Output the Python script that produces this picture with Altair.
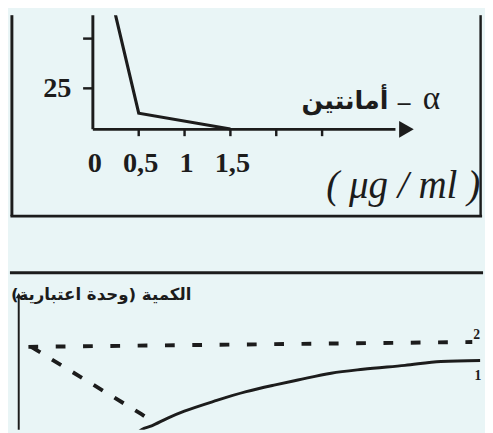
import altair as alt
import pandas as pd

BG = "#e9f5f6"
INK = "#1c1c1c"
SERIF = "Liberation Serif"
ARABIC = "DejaVu Sans"

# ---------------- top panel: alpha-amanitin dose curve ----------------
dose = [0, 0.5, 1.5]
activity = [110, 12.5, 4.6]
x_tick_values = [0.5, 1, 1.5, 2, 2.5]
x_label_values = [0, 0.5, 1, 1.5]
x_label_texts = ["0", "0,5", "1", "1,5"]
y_tick_values = [25, 50]
y_label_values = [25]
y_label_texts = ["25"]
Y_FLOOR = 4.4
X_END = 3.3
ARROW_X = 3.42

# ---------------- bottom panel: quantity curves ----------------
t_curve1 = [2.5, 2.66, 2.88, 3.23, 3.59, 4.29, 4.93, 5.56, 6.05, 6.77, 7.46, 8.37, 9.15, 10.0]
q_curve1 = [18, 23.5, 27.0, 33.9, 40.0, 49.6, 57.4, 63.5, 67.8, 73.9, 77.4, 80.9, 84.3, 85.2]
t_curve2 = [0.21, 9.83]
q_curve2 = [97.4, 101.7]
t_drop = [0.27, 2.66, 2.75]
q_drop = [97.4, 37.4, 35.0]
series_labels = ["2", "1"]
series_label_t = [9.85, 9.88]
series_label_q = [107.5, 71.0]

TOP_W, TOP_H = 485, 254
BOT_W, BOT_H = 485, 171

top_x = alt.Scale(domain=[0, 1], range=[85, 179], nice=False, zero=False)
top_y = alt.Scale(domain=[0, 50], range=[126, 24], nice=False, zero=False)
bot_x = alt.Scale(domain=[0, 10], range=[9, 482], nice=False, zero=False)
bot_y = alt.Scale(domain=[0, 100], range=[198, 83], nice=False, zero=False)

one = pd.DataFrame({"a": [0]})


def tx(f):
    return alt.X(f, type="quantitative", scale=top_x, axis=None)


def ty(f):
    return alt.Y(f, type="quantitative", scale=top_y, axis=None)


def bx(f):
    return alt.X(f, type="quantitative", scale=bot_x, axis=None)


def by(f):
    return alt.Y(f, type="quantitative", scale=bot_y, axis=None)


# top layers
df_line = pd.DataFrame({"x": dose, "y": activity})
t_line = alt.Chart(df_line).mark_line(color=INK, strokeWidth=3.2, clip=True).encode(
    x=tx("x"), y=ty("y"))

df_axes = pd.DataFrame({"x": [0, 0], "y": [Y_FLOOR, Y_FLOOR],
                        "x2": [0, X_END], "y2": [80, Y_FLOOR]})
t_axes = alt.Chart(df_axes).mark_rule(color=INK, strokeWidth=3, clip=True).encode(
    x=tx("x"), y=ty("y"), x2="x2", y2="y2")

df_arrow = pd.DataFrame({"x": [ARROW_X], "y": [Y_FLOOR]})
t_arrow = alt.Chart(df_arrow).mark_point(shape="triangle-right", filled=True, size=300,
                                         color=INK, opacity=1).encode(x=tx("x"), y=ty("y"))

df_yt = pd.DataFrame({"x": [0] * len(y_tick_values), "v": y_tick_values})
t_yticks = alt.Chart(df_yt).mark_rule(color=INK, strokeWidth=2.5, x2Offset=-10).encode(
    x=tx("x"), x2="x", y=ty("v"))

df_xt = pd.DataFrame({"v": x_tick_values, "f": [Y_FLOOR] * len(x_tick_values)})
t_xticks = alt.Chart(df_xt).mark_rule(color=INK, strokeWidth=2.5, y2Offset=7).encode(
    x=tx("v"), y=ty("f"), y2="f")

df_xl = pd.DataFrame({"v": x_label_values, "f": [Y_FLOOR] * len(x_label_values),
                      "t": x_label_texts})
t_xlabels = alt.Chart(df_xl).mark_text(font=SERIF, fontSize=29, fontWeight="bold",
                                       color=INK, dy=35, dx=2, baseline="middle").encode(
    x=tx("v"), y=ty("f"), text="t:N")

df_yl = pd.DataFrame({"x": [0] * len(y_label_values), "v": y_label_values,
                      "t": y_label_texts})
t_ylabels = alt.Chart(df_yl).mark_text(font=SERIF, fontSize=29, fontWeight="bold",
                                       color=INK, dx=-22, align="right",
                                       baseline="middle").encode(
    x=tx("x"), y=ty("v"), text="t:N")

t_frame = alt.layer(
    alt.Chart(one).mark_rule(color=INK, strokeWidth=3).encode(
        x=alt.value(2), y=alt.value(0), y2=alt.value(206)),
    alt.Chart(one).mark_rule(color=INK, strokeWidth=3).encode(
        x=alt.value(0.5), x2=alt.value(484), y=alt.value(206)),
    alt.Chart(one).mark_rule(color=INK, strokeWidth=2.5).encode(
        x=alt.value(482.5), y=alt.value(0), y2=alt.value(206)),
)

t_name = alt.Chart(one).mark_text(text="أمانتين", font=ARABIC, fontSize=26,
                                  fontWeight="bold", color=INK, align="right",
                                  baseline="middle").encode(
    x=alt.value(388), y=alt.value(88))
t_dash = alt.Chart(one).mark_text(text="–", font=SERIF, fontSize=26, fontWeight="bold",
                                  color=INK, align="center",
                                  baseline="middle").encode(
    x=alt.value(404), y=alt.value(89))
t_alpha = alt.Chart(one).mark_text(text="α", font=SERIF, fontSize=34,
                                   color=INK, align="center",
                                   baseline="middle").encode(
    x=alt.value(432), y=alt.value(86))
t_unit = alt.Chart(one).mark_text(text="( μg / ml )", font=SERIF, fontSize=40,
                                  fontStyle="italic", color=INK, align="right",
                                  baseline="middle").encode(
    x=alt.value(482), y=alt.value(175))

top = alt.layer(t_frame, t_axes, t_arrow, t_yticks, t_xticks, t_line,
                t_xlabels, t_ylabels, t_name, t_dash, t_alpha, t_unit).properties(
    width=TOP_W, height=TOP_H)

# bottom layers
b_sep = alt.Chart(one).mark_rule(color=INK, strokeWidth=3).encode(
    x=alt.value(0), x2=alt.value(BOT_W), y=alt.value(10))

df_baxis = pd.DataFrame({"x": [0], "y": [-40], "y2": [143]})
b_axis = alt.Chart(df_baxis).mark_rule(color=INK, strokeWidth=2, clip=True).encode(
    x=bx("x"), y=by("y"), y2="y2")
df_barrow = pd.DataFrame({"x": [0], "y": [143]})
b_arrow = alt.Chart(df_barrow).mark_point(shape="triangle-up", filled=True, size=40,
                                          color=INK, opacity=1).encode(x=bx("x"), y=by("y"))

b_title = alt.Chart(one).mark_text(text="الكمية (وحدة اعتبارية)\u200f", font=ARABIC,
                                   fontSize=17, fontWeight="bold", color=INK,
                                   align="left", baseline="middle").encode(
    x=alt.value(1), y=alt.value(33))

df_c2 = pd.DataFrame({"t": t_curve2, "q": q_curve2})
b_c2 = alt.Chart(df_c2).mark_line(color=INK, strokeWidth=4, strokeDash=[10, 18],
                                  clip=True).encode(x=bx("t"), y=by("q"))
df_drop = pd.DataFrame({"t": t_drop, "q": q_drop})
b_drop = alt.Chart(df_drop).mark_line(color=INK, strokeWidth=4, strokeDash=[11, 14],
                                      clip=True).encode(x=bx("t"), y=by("q"))
df_c1 = pd.DataFrame({"t": t_curve1, "q": q_curve1})
b_c1 = alt.Chart(df_c1).mark_line(color=INK, strokeWidth=3, interpolate="monotone",
                                  clip=True).encode(x=bx("t"), y=by("q"))

df_sl = pd.DataFrame({"t": series_label_t, "q": series_label_q, "s": series_labels})
b_sl = alt.Chart(df_sl).mark_text(font=SERIF, fontSize=14, fontWeight="bold", color=INK,
                                  align="left", baseline="middle").encode(
    x=bx("t"), y=by("q"), text="s:N")

bottom = alt.layer(b_sep, b_axis, b_arrow, b_c2, b_drop, b_c1, b_sl, b_title).properties(
    width=BOT_W, height=BOT_H)

chart = alt.vconcat(top, bottom, spacing=0).properties(
    padding=0, background=BG).configure_view(stroke=None)

chart.save("out.html", embed_options={"renderer": "svg", "actions": False})
